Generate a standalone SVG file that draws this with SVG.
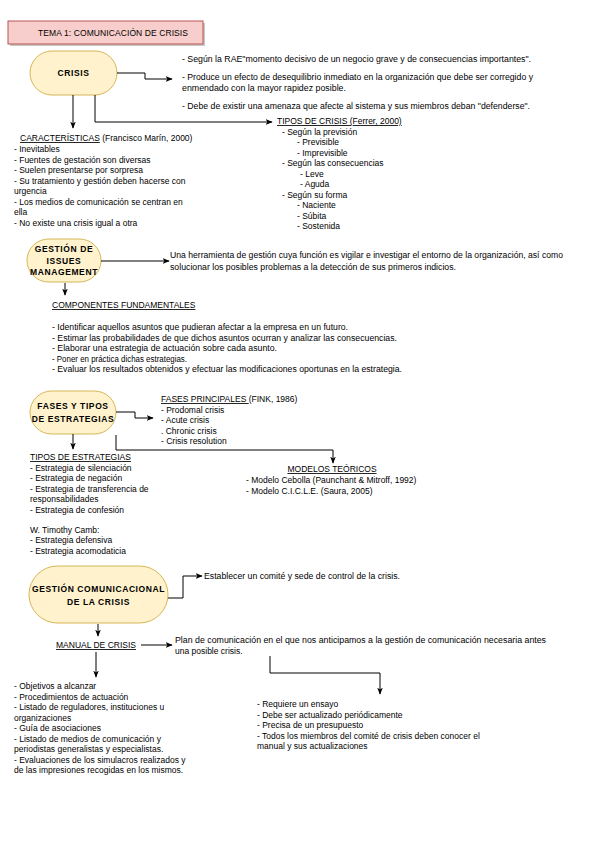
<svg xmlns="http://www.w3.org/2000/svg" width="600" height="848" viewBox="0 0 600 848">
<defs>
<marker id="ar" viewBox="0 0 10 10" refX="9" refY="5" markerWidth="7" markerHeight="7" orient="auto" markerUnits="userSpaceOnUse">
<path d="M0,1 L10,5 L0,9 L2.5,5 Z" fill="#000"/>
</marker>
<style>
text{font-family:"Liberation Sans",Arial,sans-serif;font-size:8.5px;fill:#000}
.b{font-weight:bold;font-size:8.5px;letter-spacing:0.6px}
.u{text-decoration:underline}
.node{fill:#fff2cc;stroke:#d6b656;stroke-width:1}
.c{fill:none;stroke:#000;stroke-width:1;marker-end:url(#ar)}
.l{fill:none;stroke:#000;stroke-width:1}
</style>
</defs>
<rect width="600" height="848" fill="#fff"/>
<g id="title">
<rect x="10" y="23" width="195" height="23" fill="#c9c9c9"/>
<rect x="8" y="21" width="195" height="23" fill="#f8cecc" stroke="#b85450"/>
<text x="38" y="35.5" textLength="150" lengthAdjust="spacing">TEMA 1: COMUNICACIÓN DE CRISIS</text>
</g>
<g id="crisis">
<rect x="30" y="51" width="87" height="44" rx="22" class="node"/>
<text x="73.5" y="76" text-anchor="middle" class="b">CRISIS</text>
</g>
<g id="crisis-def">
<text x="182" y="62" textLength="349" lengthAdjust="spacingAndGlyphs">- Según la RAE"momento decisivo de un negocio grave y de consecuencias importantes".</text>
<text x="182" y="80" textLength="351" lengthAdjust="spacingAndGlyphs">- Produce un efecto de desequilibrio inmediato en la organización que debe ser corregido y</text>
<text x="182" y="91" textLength="164" lengthAdjust="spacingAndGlyphs">enmendado con la mayor rapidez posible.</text>
<text x="182" y="109" textLength="348" lengthAdjust="spacingAndGlyphs">- Debe de existir una amenaza que afecte al sistema y sus miembros deban "defenderse".</text>
</g>
<g id="caracteristicas">
<text x="20" y="141"><tspan class="u">CARACTERÍSTICAS</tspan> (Francisco Marín, 2000)</text>
<text x="14" y="152">- Inevitables</text>
<text x="14" y="162.5">- Fuentes de gestación son diversas</text>
<text x="14" y="173">- Suelen presentarse por sorpresa</text>
<text x="14" y="183.5">- Su tratamiento y gestión deben hacerse con</text>
<text x="14" y="194">urgencia</text>
<text x="14" y="204.5">- Los medios de comunicación se centran en</text>
<text x="14" y="215">ella</text>
<text x="14" y="225.5">- No existe una crisis igual a otra</text>
</g>
<g id="tipos-crisis">
<text x="277" y="124" class="u">TIPOS DE CRISIS (Ferrer, 2000)</text>
<text x="282" y="134.5">- Según la previsión</text>
<text x="297" y="145">- Previsible</text>
<text x="297" y="155.5">- Imprevisible</text>
<text x="282" y="166">- Según las consecuencias</text>
<text x="300" y="176.5">- Leve</text>
<text x="300" y="187">- Aguda</text>
<text x="282" y="197.5">- Según su forma</text>
<text x="297" y="208">- Naciente</text>
<text x="297" y="218.5">- Súbita</text>
<text x="297" y="229">- Sostenida</text>
</g>
<g id="issues">
<rect x="27" y="239" width="74" height="43" rx="21.5" class="node"/>
<text x="64" y="252" text-anchor="middle" class="b">GESTIÓN DE</text>
<text x="64" y="263.5" text-anchor="middle" class="b">ISSUES</text>
<text x="64" y="275" text-anchor="middle" class="b">MANAGEMENT</text>
</g>
<g id="issues-def">
<text x="170" y="258" textLength="393" lengthAdjust="spacingAndGlyphs">Una herramienta de gestión cuya función es vigilar e investigar el entorno de la organización, así como</text>
<text x="170" y="270" textLength="286" lengthAdjust="spacingAndGlyphs">solucionar los posibles problemas a la detección de sus primeros indicios.</text>
</g>
<g id="componentes">
<text x="52" y="308" class="u">COMPONENTES FUNDAMENTALES</text>
<text x="52" y="330" textLength="296" lengthAdjust="spacingAndGlyphs">- Identificar aquellos asuntos que pudieran afectar a la empresa en un futuro.</text>
<text x="52" y="340.5" textLength="345" lengthAdjust="spacingAndGlyphs">- Estimar las probabilidades de que dichos asuntos ocurran y analizar las consecuencias.</text>
<text x="52" y="351" textLength="225" lengthAdjust="spacingAndGlyphs">- Elaborar una estrategia de actuación sobre cada asunto.</text>
<text x="52" y="361.5" textLength="135" lengthAdjust="spacingAndGlyphs">- Poner en práctica dichas estrategias.</text>
<text x="52" y="372" textLength="350" lengthAdjust="spacingAndGlyphs">- Evaluar los resultados obtenidos y efectuar las modificaciones oportunas en la estrategia.</text>
</g>
<g id="fases">
<rect x="30" y="391" width="86" height="43" rx="21.5" class="node"/>
<text x="73" y="409" text-anchor="middle" class="b">FASES Y TIPOS</text>
<text x="73" y="422" text-anchor="middle" class="b">DE ESTRATEGIAS</text>
</g>
<g id="fases-principales">
<text x="161" y="402"><tspan class="u">FASES PRINCIPALES </tspan>(FINK, 1986)</text>
<text x="161" y="412.5">- Prodomal crisis</text>
<text x="161" y="423">- Acute crisis</text>
<text x="161" y="433.5">. Chronic crisis</text>
<text x="161" y="444">- Crisis resolution</text>
</g>
<g id="tipos-estrategias">
<text x="30" y="460" class="u">TIPOS DE ESTRATEGIAS</text>
<text x="30" y="470.5">-  Estrategia de silenciación</text>
<text x="30" y="481">-  Estrategia de negación</text>
<text x="30" y="491.5">-  Estrategia de transferencia de</text>
<text x="30" y="502">responsabilidades</text>
<text x="30" y="512.5">-  Estrategia de confesión</text>
<text x="30" y="532.5">W. Timothy Camb:</text>
<text x="30" y="543">-  Estrategia defensiva</text>
<text x="30" y="553.5">-  Estrategia acomodaticia</text>
</g>
<g id="modelos">
<text x="332" y="472" text-anchor="middle" class="u">MODELOS TEÓRICOS</text>
<text x="246" y="483">- Modelo  Cebolla (Paunchant &amp; Mitroff, 1992)</text>
<text x="246" y="493.5">- Modelo  C.I.C.L.E. (Saura, 2005)</text>
</g>
<g id="gestion-com">
<rect x="29" y="566" width="139" height="57" rx="28.5" class="node"/>
<text x="98.5" y="592" text-anchor="middle" class="b">GESTIÓN COMUNICACIONAL</text>
<text x="98.5" y="604.5" text-anchor="middle" class="b">DE LA CRISIS</text>
</g>
<g id="comite">
<text x="204" y="579" textLength="196" lengthAdjust="spacingAndGlyphs">Establecer un comité y sede de control de la crisis.</text>
</g>
<g id="manual">
<text x="56" y="648" class="u">MANUAL DE CRISIS</text>
</g>
<g id="plan">
<text x="175" y="643" textLength="371" lengthAdjust="spacingAndGlyphs">Plan de comunicación en el que nos anticipamos a la gestión de comunicación necesaria antes</text>
<text x="175" y="654">una posible crisis.</text>
</g>
<g id="manual-contenido">
<text x="14" y="689">- Objetivos a alcanzar</text>
<text x="14" y="699.5">- Procedimientos de actuación</text>
<text x="14" y="710">- Listado de reguladores, instituciones u</text>
<text x="14" y="720.5">organizaciones</text>
<text x="14" y="731">- Guía de asociaciones</text>
<text x="14" y="741.5">- Listado de medios de comunicación y</text>
<text x="14" y="752">periodistas generalistas y especialistas.</text>
<text x="14" y="762.5">- Evaluaciones de los simulacros realizados y</text>
<text x="14" y="773">de las impresiones recogidas en los mismos.</text>
</g>
<g id="manual-requisitos">
<text x="257" y="707">- Requiere un ensayo</text>
<text x="257" y="717.5">- Debe ser actualizado periódicamente</text>
<text x="257" y="728">- Precisa de un presupuesto</text>
<text x="257" y="738.5">- Todos los miembros del comité de crisis deben conocer el</text>
<text x="257" y="749">manual y sus actualizaciones</text>
</g>
<g id="connectors">
<path class="c" d="M117,73 H145 V79 H172"/>
<path class="c" d="M73,95 V128"/>
<path class="c" d="M95,95 V122 H272"/>
<path class="c" d="M101,261 H169"/>
<path class="c" d="M65,283 V295"/>
<path class="c" d="M116,412 H135 V418 H153"/>
<path class="c" d="M73,434 V449"/>
<path class="c" d="M116,435 V450 H333 V463"/>
<path class="c" d="M168,598 H183 V576 H202"/>
<path class="c" d="M98,624 V636"/>
<path class="c" d="M141,645 H172"/>
<path class="c" d="M96,652 V677"/>
<path class="c" d="M270,656 V673 H380 V694"/>
</g>
</svg>
